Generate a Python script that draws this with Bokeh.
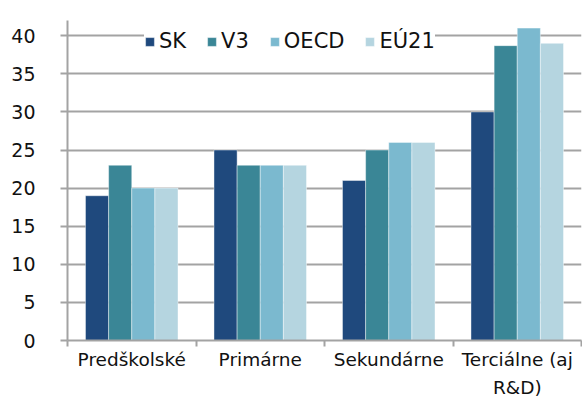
from bokeh.plotting import figure
from bokeh.models import (ColumnDataSource, Range1d, LinearAxis, FixedTicker, Legend)
from bokeh.transform import dodge
from bokeh.embed import file_html
from bokeh.resources import INLINE

categories = ["Predškolské", "Primárne", "Sekundárne", "Terciálne (aj\nR&D)"]
series_names = ["SK", "V3", "OECD", "EÚ21"]
sk = [19, 25, 21, 30]
v3 = [23, 23, 25, 38.7]
oecd = [20, 23, 26, 41]
eu21 = [20, 23, 26, 39]
y_ticks = [0, 5, 10, 15, 20, 25, 30, 35, 40]
colors = ["#1f497d", "#3a8696", "#7bb9cf", "#b5d5e0"]

FONT = "DejaVu Sans"
GRID = "#a3a3a3"
TXT = "#111111"

n = len(categories)
pos = list(range(n))
source = ColumnDataSource(data=dict(x=pos, SK=sk, V3=v3, OECD=oecd, EU21=eu21))

p = figure(width=582, height=401, x_range=Range1d(-0.5, n - 0.5),
           y_range=Range1d(0, 42), output_backend="svg", toolbar_location=None,
           x_axis_location=None, min_border_left=67, min_border_right=1,
           min_border_top=20, min_border_bottom=61)

keys = ["SK", "V3", "OECD", "EU21"]
bw = 0.18
offsets = [-0.27, -0.09, 0.09, 0.27]
renderers = []
for k, name, c, off in zip(keys, series_names, colors, offsets):
    r = p.vbar(x=dodge("x", off), top=k, width=bw, bottom=0,
               source=source, fill_color=c, line_color="white", line_width=0.6,
               line_alpha=0.7)
    renderers.append((name, [r]))

bounds = [i - 0.5 for i in range(n + 1)]
xax = LinearAxis(ticker=FixedTicker(ticks=pos, minor_ticks=bounds),
                 major_label_overrides={i: c for i, c in zip(pos, categories)},
                 axis_line_color=GRID, axis_line_width=2,
                 major_tick_line_color=None, major_tick_out=6, major_tick_in=0,
                 minor_tick_line_color=GRID, minor_tick_line_width=2,
                 minor_tick_out=6, minor_tick_in=0,
                 major_label_text_font=FONT, major_label_text_font_size="18.5px",
                 major_label_text_color=TXT, major_label_standoff=2,
                 major_label_text_line_height=1.35)
p.add_layout(xax, "below")

p.yaxis.ticker = FixedTicker(ticks=y_ticks)
p.yaxis.axis_line_color = GRID
p.yaxis.axis_line_width = 2
p.yaxis.major_tick_line_color = GRID
p.yaxis.major_tick_line_width = 2
p.yaxis.major_tick_out = 7
p.yaxis.major_tick_in = 0
p.yaxis.minor_tick_line_color = None
p.yaxis.major_label_standoff = 25
p.yaxis.major_label_text_font = FONT
p.yaxis.major_label_text_font_size = "19px"
p.yaxis.major_label_text_color = TXT

p.xgrid.grid_line_color = None
p.ygrid.grid_line_color = GRID
p.ygrid.grid_line_width = 2
p.ygrid.ticker = FixedTicker(ticks=y_ticks[1:])
p.outline_line_color = None
p.background_fill_color = "white"

legend = Legend(items=renderers, orientation="horizontal", location=(77, 287),
                background_fill_color="white", background_fill_alpha=1,
                border_line_color=None, padding=10, margin=0, spacing=20,
                glyph_width=11, glyph_height=11, label_standoff=4, label_height=20,
                label_text_font=FONT, label_text_font_size="21px",
                label_text_color=TXT)
p.add_layout(legend, "center")

open("out.html", "w").write(file_html(p, INLINE))
